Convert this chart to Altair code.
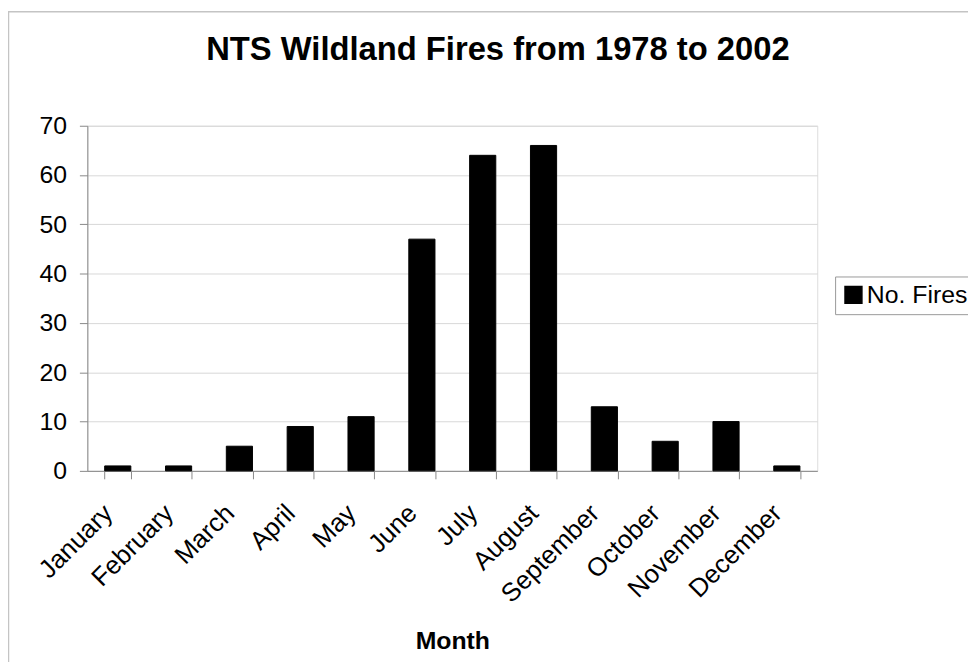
import altair as alt
import pandas as pd

months = ["January", "February", "March", "April", "May", "June",
          "July", "August", "September", "October", "November", "December"]
fires = [1, 1, 5, 9, 11, 47, 64, 66, 13, 6, 10, 1]
series_name = "No. Fires"
y_ticks = [0, 10, 20, 30, 40, 50, 60, 70]

df = pd.DataFrame({"Month": months, "Fires": fires, "Series": [series_name] * len(months)})

FONT = "Liberation Sans"

bars = alt.Chart(df).mark_bar(stroke="#000000", strokeWidth=1).encode(
    x=alt.X(
        "Month:N",
        sort=months,
        scale=alt.Scale(paddingInner=0.57, paddingOuter=0.285),
        axis=alt.Axis(
            title="Month",
            labelAngle=-45,
            labelAlign="right",
            labelBaseline="top",
            labelOffset=-19,
            labelPadding=21,
            labelFontSize=26,
            labelFont=FONT,
            labelColor="#000000",
            tickBand="extent",
            tickSize=8,
            tickColor="#888888",
            domainColor="#888888",
            grid=False,
            titleFont=FONT,
            titleFontSize=25,
            titleFontWeight="bold",
            titleColor="#000000",
            titlePadding=22,
        ),
    ),
    y=alt.Y(
        "Fires:Q",
        scale=alt.Scale(domain=[0, 70], nice=False),
        axis=alt.Axis(
            title=None,
            values=y_ticks,
            labelFontSize=25,
            labelFont=FONT,
            labelColor="#000000",
            labelPadding=13,
            tickSize=8,
            tickColor="#888888",
            domainColor="#888888",
            grid=True,
            gridColor="#d8d8d8",
        ),
    ),
    color=alt.Color(
        "Series:N",
        scale=alt.Scale(range=["#000000"]),
        legend=alt.Legend(
            title=None,
            orient="none",
            legendX=754,
            legendY=152,
            symbolType="square",
            symbolSize=290,
            symbolStrokeColor="#000000",
            labelFontSize=25,
            labelFont=FONT,
            labelColor="#000000",
            labelOffset=1,
            strokeColor="#999999",
            fillColor="#ffffff",
            padding=6,
        ),
    ),
)

frame = alt.Chart(alt.Data(values=[{}])).mark_rect(
    fill=None, stroke="#c4c4c4", strokeWidth=1.5, clip=False
).encode(
    x=alt.value(-79.5),
    x2=alt.value(1000),
    y=alt.value(-115),
    y2=alt.value(800),
)

chart = alt.layer(frame, bars).properties(
    width=736,
    height=348,
    title=alt.TitleParams(
        "NTS Wildland Fires from 1978 to 2002",
        font=FONT,
        fontSize=33,
        fontWeight="bold",
        color="#000000",
        anchor="middle",
        frame="group",
        baseline="alphabetic",
        dx=46,
        offset=-82,
    ),
    autosize=alt.AutoSizeParams(type="none"),
    padding={"left": 80, "top": 116, "right": 152, "bottom": 190},
).configure_view(stroke="#888888", strokeWidth=1).configure(background="#ffffff")

chart.save("out.html", embed_options={"renderer": "svg", "actions": False})
